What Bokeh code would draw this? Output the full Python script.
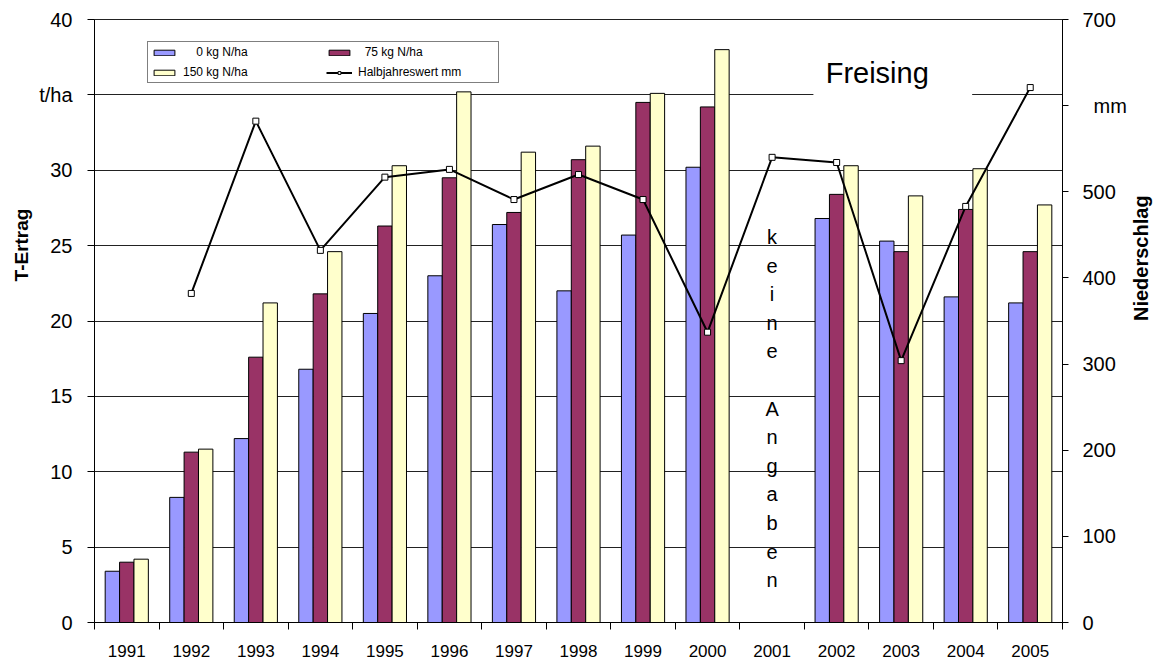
import numpy as np
from bokeh.plotting import figure
from bokeh.models import (Range1d, LinearAxis, FixedTicker, Legend, LegendItem,
                          Label, BoxAnnotation)
from bokeh.embed import file_html
from bokeh.resources import INLINE

years = ["1991", "1992", "1993", "1994", "1995", "1996", "1997", "1998",
         "1999", "2000", "2001", "2002", "2003", "2004", "2005"]
n0 = [3.4, 8.3, 12.2, 16.8, 20.5, 23.0, 26.4, 22.0, 25.7, 30.2, None, 26.8, 25.3, 21.6, 21.2]
n75 = [4.0, 11.3, 17.6, 21.8, 26.3, 29.5, 27.2, 30.7, 34.5, 34.2, None, 28.4, 24.6, 27.4, 24.6]
n150 = [4.2, 11.5, 21.2, 24.6, 30.3, 35.2, 31.2, 31.6, 35.1, 38.0, None, 30.3, 28.3, 30.1, 27.7]
rain = [None, 382, 582, 432, 517, 526, 491, 520, 491, 337, 540, 534, 304, 483, 621]

y_ticks = [0, 5, 10, 15, 20, 25, 30, 35, 40]
mm_ticks = [0, 100, 200, 300, 400, 500, 600, 700]

FONT = "Liberation Sans"

def arr(v):
    return np.array([np.nan if x is None else x for x in v], dtype=float)

centers = np.arange(len(years)) + 0.5
bw = 0.223

p = figure(frame_width=968, frame_height=603, x_range=Range1d(0, len(years)),
           y_range=Range1d(0, 40), output_backend="svg", toolbar_location=None,
           min_border_left=94, min_border_right=103, min_border_top=19, min_border_bottom=40)
p.extra_y_ranges = {"mm": Range1d(0, 700)}
p.outline_line_color = "#222222"
p.outline_line_width = 1
p.background_fill_color = "white"
p.border_fill_color = "white"

# grid
p.xgrid.grid_line_color = None
p.ygrid.ticker = FixedTicker(ticks=y_ticks)
p.ygrid.grid_line_color = "#222222"
p.ygrid.grid_line_width = 1

# bars
r0 = p.vbar(x=centers - bw, top=arr(n0), width=bw, fill_color="#9999FF",
            line_color="black", line_width=1)
r75 = p.vbar(x=centers, top=arr(n75), width=bw, fill_color="#993366",
             line_color="black", line_width=1)
r150 = p.vbar(x=centers + bw, top=arr(n150), width=bw, fill_color="#FFFFCC",
              line_color="black", line_width=1)

# line on secondary axis
rl = p.line(x=centers, y=arr(rain), y_range_name="mm", line_color="black", line_width=2)
rs = p.scatter(x=centers, y=arr(rain), y_range_name="mm", marker="square", size=6,
               fill_color="white", line_color="black", line_width=1)

# x axis
xa = p.xaxis[0]
xa.ticker = FixedTicker(ticks=list(centers), minor_ticks=list(range(len(years) + 1)))
xa.major_label_overrides = {float(c): y for c, y in zip(centers, years)}
xa.major_tick_out = 0
xa.major_tick_in = 0
xa.minor_tick_out = 7
xa.minor_tick_in = 0
xa.minor_tick_line_color = "black"
xa.axis_line_color = "black"
xa.major_label_standoff = 15
xa.major_label_text_font = FONT
xa.major_label_text_font_size = "17px"
xa.major_label_text_color = "black"

# left axis
ya = p.yaxis[0]
ya.ticker = FixedTicker(ticks=y_ticks)
ya.major_label_overrides = {35: "t/ha"}
ya.major_tick_out = 7
ya.major_tick_in = 0
ya.minor_tick_line_color = None
ya.axis_line_color = "black"
ya.major_tick_line_color = "black"
ya.major_label_standoff = 15
ya.major_label_text_font = FONT
ya.major_label_text_font_size = "20px"
ya.major_label_text_color = "black"
ya.axis_label = "\u2003" * 8 + "T-Ertrag"
ya.axis_label_standoff = 4
ya.axis_label_text_font = FONT
ya.axis_label_text_font_style = "bold"
ya.axis_label_text_font_size = "19px"
ya.axis_label_text_color = "black"

# right axis
ra = LinearAxis(y_range_name="mm", ticker=FixedTicker(ticks=mm_ticks))
ra.major_label_overrides = {600: "\u00a0\u00a0mm"}
ra.major_tick_out = 6
ra.major_tick_in = 0
ra.minor_tick_line_color = None
ra.axis_line_color = "black"
ra.major_tick_line_color = "black"
ra.major_label_standoff = 14
ra.major_label_text_font = FONT
ra.major_label_text_font_size = "20px"
ra.major_label_text_color = "black"
ra.axis_label = "Niederschlag"
ra.axis_label_standoff = 11
ra.axis_label_text_font = FONT
ra.axis_label_text_font_style = "bold"
ra.axis_label_text_font_size = "20px"
ra.axis_label_text_color = "black"
if "axis_label_orientation" in LinearAxis.properties():
    ra.axis_label_orientation = float(np.pi / 2)
p.add_layout(ra, "right")

# Freising
p.add_layout(BoxAnnotation(left=11.14, right=13.6, bottom=34.6, top=37.9,
                           fill_color="white", fill_alpha=1.0, line_color=None))
p.add_layout(Label(x=11.33, y=36.45, text="Freising", text_align="left",
                   text_baseline="alphabetic", text_font=FONT, text_font_size="29px",
                   text_color="black"))

# keine Angaben
p.add_layout(Label(x=10.5, y=26.3, text="k\ne\ni\nn\ne\n\nA\nn\ng\na\nb\ne\nn",
                   text_align="center", text_baseline="top", text_font=FONT,
                   text_font_size="20px", text_line_height=1.3, text_color="black"))

legend = Legend(items=[
    LegendItem(label="\u2007\u20070 kg N/ha", renderers=[r0]),
    LegendItem(label="\u200775 kg N/ha", renderers=[r75]),
    LegendItem(label="150 kg N/ha", renderers=[r150]),
    LegendItem(label="Halbjahreswert mm", renderers=[rl, rs]),
], location=(53, 539), orientation="horizontal", ncols=2)
legend.label_text_font = FONT
legend.label_text_font_size = "12px"
legend.label_text_color = "black"
legend.label_height = 14
legend.label_width = 137
legend.glyph_height = 7
legend.glyph_width = 26
legend.label_standoff = 6
legend.spacing = 6
legend.padding = 3
legend.margin = 0
legend.border_line_color = "black"
legend.border_line_width = 1
legend.background_fill_color = "white"
legend.background_fill_alpha = 1.0
p.add_layout(legend, "center")

open("out.html", "w").write(file_html(p, INLINE))
